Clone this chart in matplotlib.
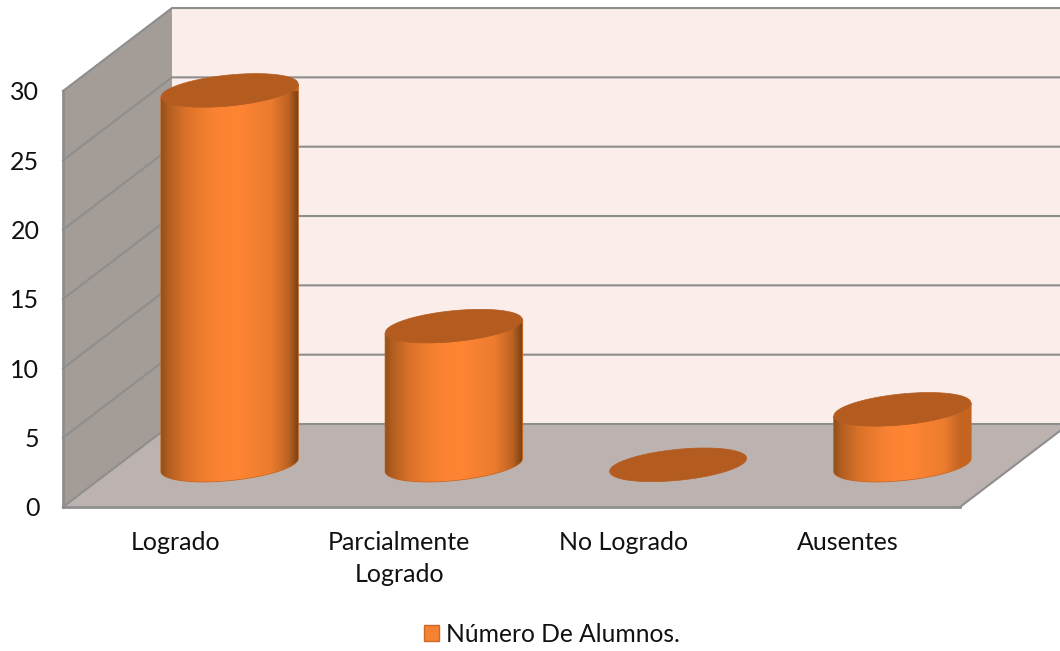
import numpy as np
import matplotlib
matplotlib.use("Agg")
import matplotlib.pyplot as plt
from matplotlib.patches import Polygon, Patch
from matplotlib.colors import LinearSegmentedColormap

categories = ["Logrado", "Parcialmente\nLogrado", "No Logrado", "Ausentes"]
values = [27, 10, 0, 4]
series_name = "Número De Alumnos."
y_ticks = [0, 5, 10, 15, 20, 25, 30]

W, H = 1060, 651
plt.rcParams["font.family"] = ["Lato", "DejaVu Sans"]
fig = plt.figure(figsize=(W / 100, H / 100), dpi=100, facecolor="white")
ax = fig.add_axes([63 / W, (H - 507) / H, (960 - 63) / W, (507 - 91) / H])
ax.set_xlim(-0.5, 3.5)
ax.set_ylim(0, 30)

DX, DY = 109 / 224.25, 83 / 13.87   # depth of the 3-D box in data units
GRID = "#8E8E8E"
x0, x1 = -0.5, 3.5
top = 30

# walls and floor
ax.add_patch(Polygon([(x0 + DX, DY), (x1 + DX, DY), (x1 + DX, top + DY), (x0 + DX, top + DY)],
                     fc="#FBEDE9", ec="none", clip_on=False, zorder=1))
ax.add_patch(Polygon([(x0, 0), (x0 + DX, DY), (x0 + DX, top + DY), (x0, top)],
                     fc="#A49C97", ec="none", clip_on=False, zorder=1))
ax.add_patch(Polygon([(x0, 0), (x1, 0), (x1 + DX, DY), (x0 + DX, DY)],
                     fc="#BCB2AF", ec="none", clip_on=False, zorder=1))
for t in y_ticks:
    ax.plot([x0, x0 + DX, x1 + DX], [t, t + DY, t + DY], color=GRID, lw=1.5,
            clip_on=False, zorder=2, solid_joinstyle="miter")
ax.plot([x1, x1 + DX], [0, DY], color=GRID, lw=1.5, clip_on=False, zorder=2)

# cylinders
cmap = LinearSegmentedColormap.from_list("cyl", [
    (0.00, "#93501B"), (0.05, "#B05E21"), (0.18, "#DB7229"), (0.38, "#F98232"),
    (0.55, "#FF8533"), (0.80, "#EC7C2F"), (0.93, "#BE6323"), (1.00, "#7D4415")])
RX = 68.5 / 224.25
RY = 15.5 / 13.87
SH = 6.5 / 13.87
t = np.linspace(0, 2 * np.pi, 200)
for i, v in enumerate(values):
    cx = i + DX / 2
    base = DY / 2 + 0.05
    ex = RX * np.cos(t)
    ey = SH * np.cos(t) + RY * np.sin(t)
    if v > 0:
        lower = t >= np.pi
        xs = np.r_[cx + ex[lower], cx + ex[lower][::-1]]
        ys = np.r_[base + ey[lower], base + v + ey[lower][::-1]]
        body = Polygon(np.c_[xs, ys], fc="#C4641F", ec="#C4641F", lw=1.0,
                       clip_on=False, zorder=3, transform=ax.transData)
        ax.add_patch(body)
        im = ax.imshow(np.linspace(0, 1, 256)[None, :], cmap=cmap, aspect="auto", origin="lower",
                       extent=[cx - RX, cx + RX, base - 2, base + v + 2], zorder=4,
                       clip_on=True, interpolation="bilinear")
        clip = Polygon(np.c_[xs, ys], transform=ax.transData, fc="none", ec="none")
        im.set_clip_path(clip)
    ax.add_patch(Polygon(np.c_[cx + ex, base + v + ey], fc="#B45C20", ec="#B45C20", lw=0.5,
                         clip_on=False, zorder=5))
ax.set_xlim(-0.5, 3.5)
ax.set_ylim(0, 30)

# axes
for name, sp in ax.spines.items():
    sp.set_visible(name in ("left", "bottom"))
    sp.set_color(GRID)
    sp.set_linewidth(2)
    sp.set_zorder(2.5)
ax.set_xticks(range(len(categories)))
ax.set_xticklabels(categories, fontsize=18, color="#111111", linespacing=1.5)
ax.set_yticks(y_ticks)
ax.set_yticklabels([str(y) for y in y_ticks], fontsize=18, color="#111111")
ax.tick_params(axis="both", length=0)
ax.tick_params(axis="x", pad=17)
ax.tick_params(axis="y", pad=17)
ax.patch.set_visible(False)

fig.legend(handles=[Patch(fc="#F58233", ec="#C96A28", lw=1, label=series_name)],
           loc="center", bbox_to_anchor=(552 / W, (H - 634) / H), frameon=False,
           fontsize=17.7, handlelength=0.62, handleheight=0.62, handletextpad=0.3,
           labelcolor="#111111")
fig.savefig("out.png", dpi=100)
